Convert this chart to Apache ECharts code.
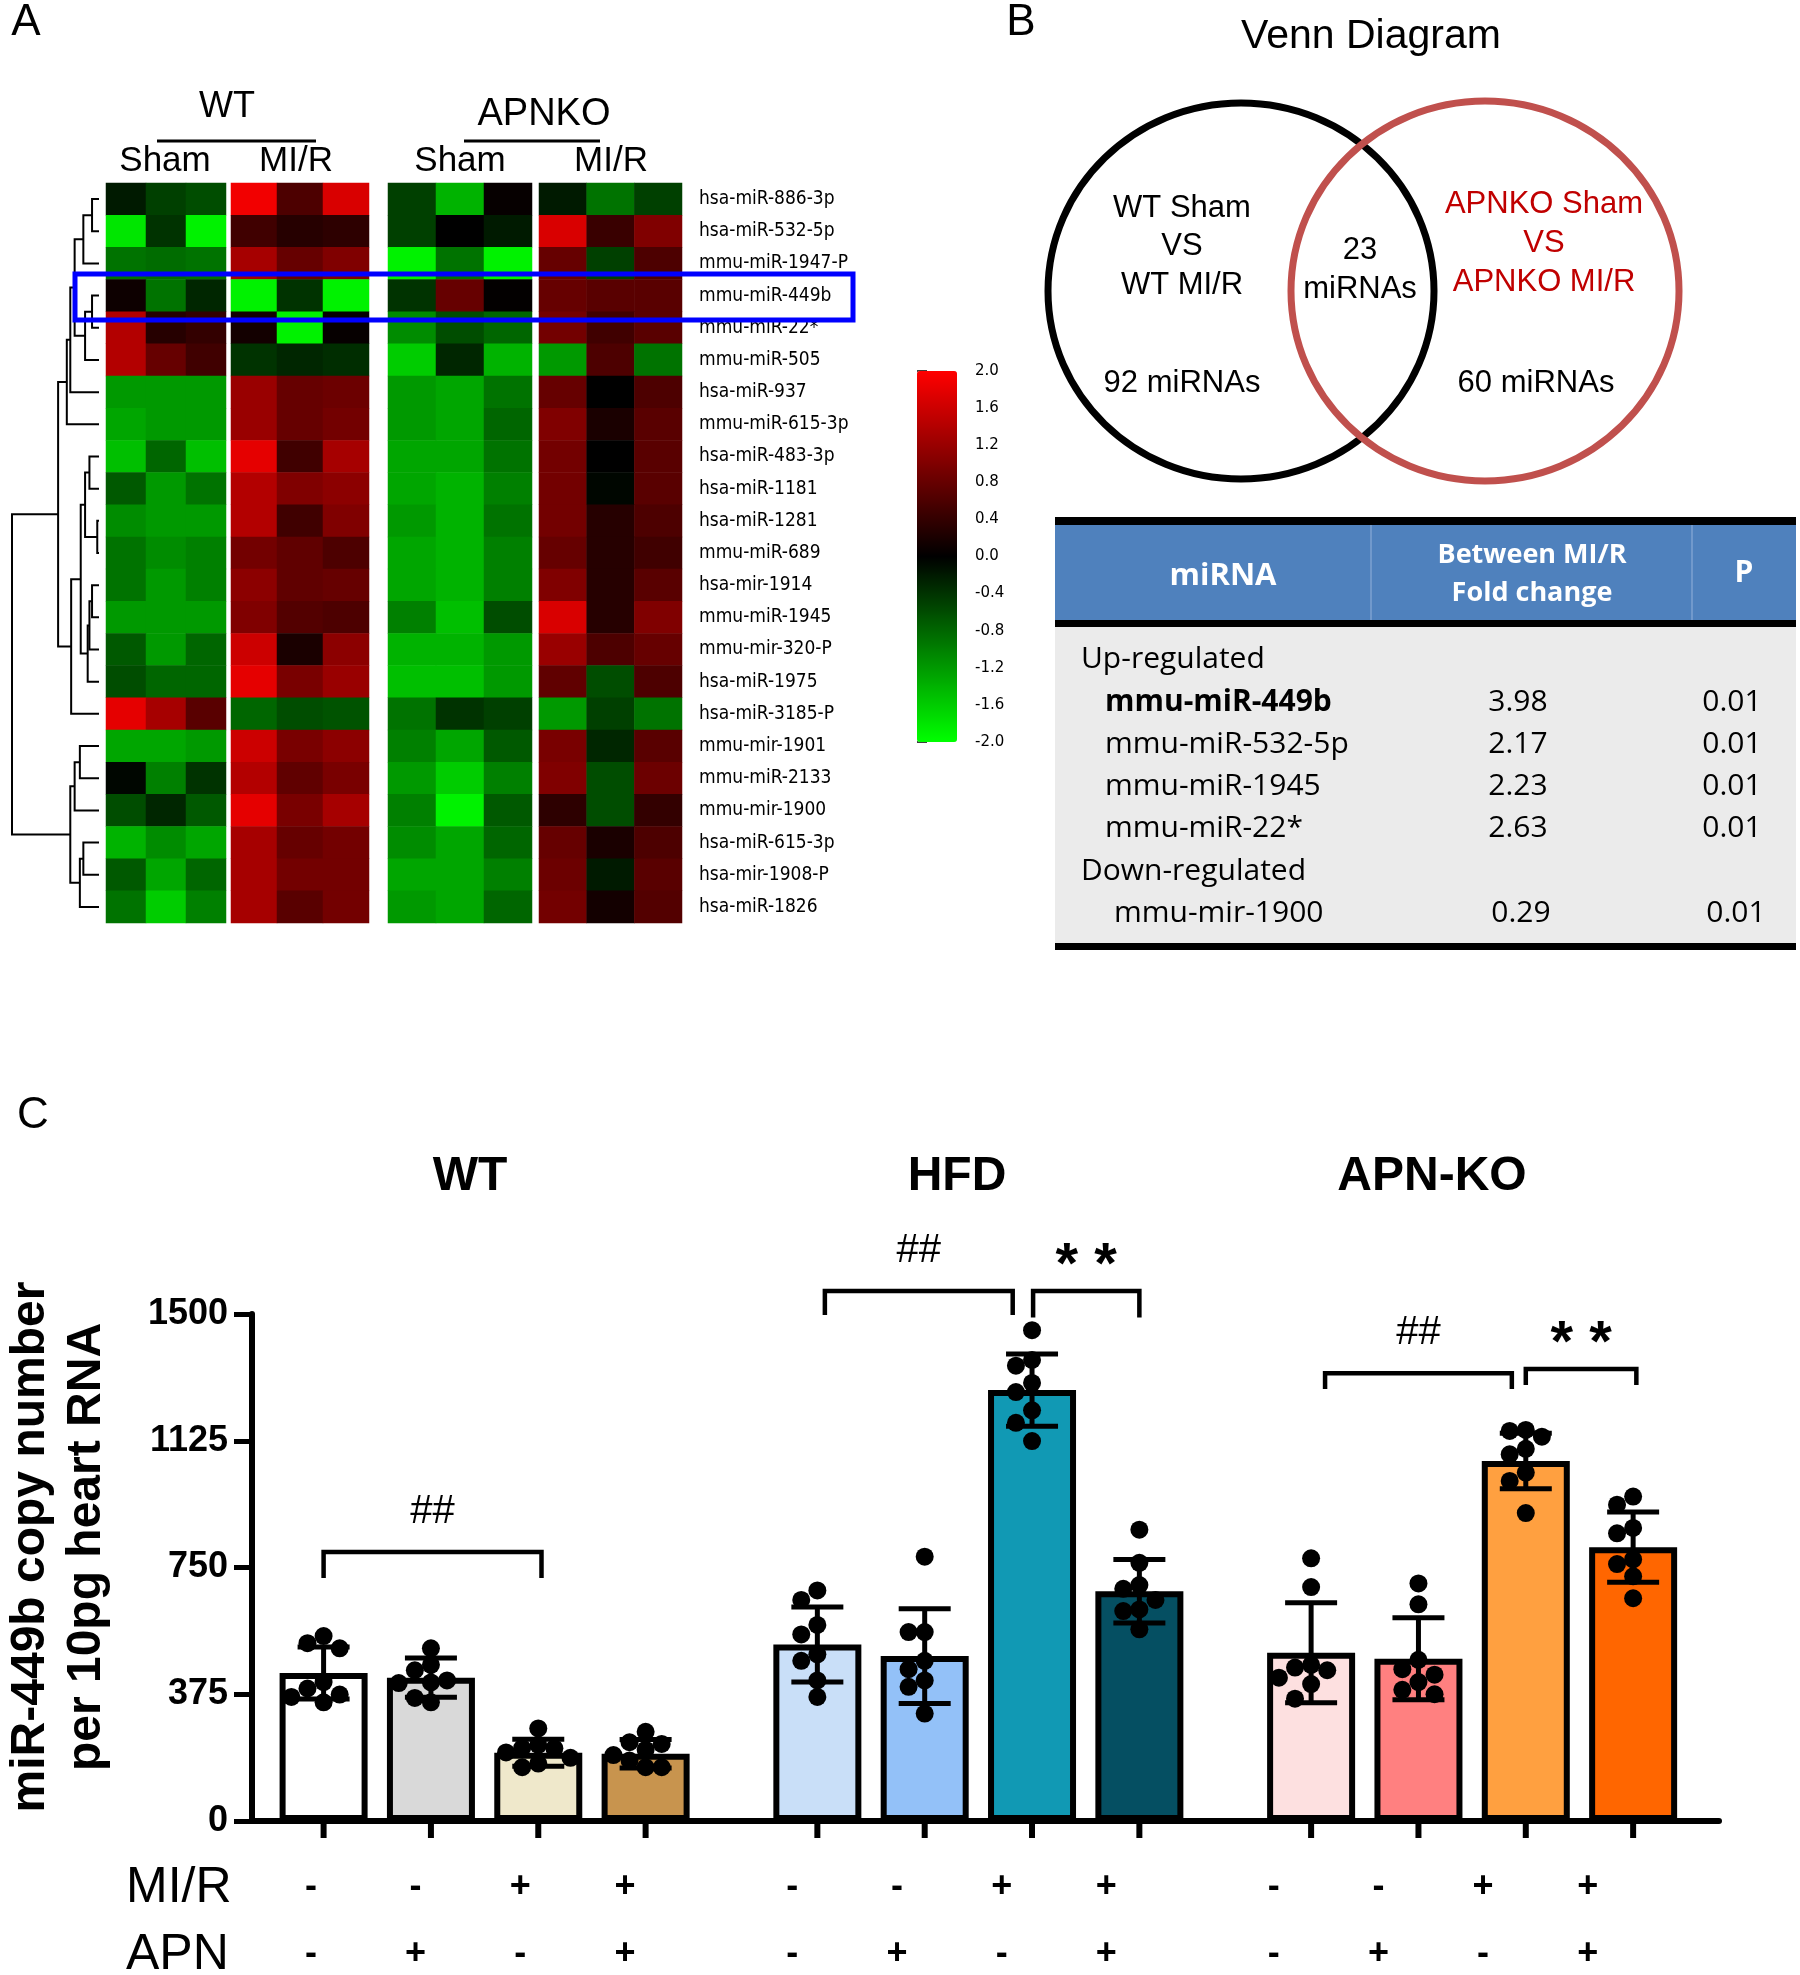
<!DOCTYPE html>
<html><head><meta charset="utf-8">
<script src="https://cdn.jsdelivr.net/npm/echarts@6.0.0/dist/echarts.min.js"></script>
<style>html,body{margin:0;padding:0;background:#fff;}#chart{width:1800px;height:1975px;}</style>
</head><body><div id="chart"></div>
<script>
// ================= DATA =================
// Panel A heatmap
const mirnas = ['hsa-miR-886-3p','hsa-miR-532-5p','mmu-miR-1947-P','mmu-miR-449b','mmu-miR-22*','mmu-miR-505','hsa-miR-937','mmu-miR-615-3p','hsa-miR-483-3p','hsa-miR-1181','hsa-miR-1281','mmu-miR-689','hsa-mir-1914','mmu-miR-1945','mmu-mir-320-P','hsa-miR-1975','hsa-miR-3185-P','mmu-mir-1901','mmu-miR-2133','mmu-mir-1900','hsa-miR-615-3p','hsa-mir-1908-P','hsa-miR-1826'];
const heatGroups = ['WT Sham','WT MI/R','APNKO Sham','APNKO MI/R'];
const wtSham = [[-0.2,-0.5,-0.6],[-1.8,-0.4,-1.9],[-0.9,-0.85,-0.9],[0.1,-0.9,-0.3],[1.4,0.3,0.4],[1.4,0.8,0.5],[-1.2,-1.2,-1.2],[-1.3,-1.2,-1.2],[-1.5,-0.8,-1.5],[-0.7,-1.2,-0.9],[-1.1,-1.2,-1.2],[-0.9,-1.1,-1.0],[-0.9,-1.2,-1.0],[-1.2,-1.2,-1.2],[-0.7,-1.2,-0.8],[-0.6,-0.8,-0.8],[1.8,1.3,0.7],[-1.3,-1.3,-1.2],[-0.05,-1.0,-0.4],[-0.6,-0.3,-0.7],[-1.4,-1.1,-1.3],[-0.7,-1.3,-0.8],[-0.9,-1.6,-1.0]];
const wtMIR = [[1.9,0.6,1.7],[0.5,0.3,0.35],[1.3,0.8,1.0],[-1.9,-0.4,-1.9],[0.15,-1.9,0.05],[-0.4,-0.3,-0.35],[1.2,0.8,0.85],[1.2,0.8,0.9],[1.8,0.5,1.3],[1.4,1.0,1.1],[1.4,0.5,1.0],[0.9,0.75,0.6],[1.1,0.75,0.8],[1.0,0.65,0.6],[1.6,0.2,1.1],[1.8,0.95,1.2],[-0.8,-0.6,-0.65],[1.6,0.95,1.1],[1.4,0.75,0.95],[1.8,0.95,1.3],[1.3,0.8,0.9],[1.3,0.9,0.9],[1.3,0.7,0.9]];
const apnSham = [[-0.5,-1.4,0.05],[-0.5,0,-0.2],[-1.9,-0.9,-1.9],[-0.4,0.8,0.02],[-1.1,-0.6,-0.8],[-1.6,-0.3,-1.4],[-1.2,-1.3,-0.9],[-1.2,-1.3,-0.8],[-1.3,-1.3,-0.9],[-1.3,-1.4,-1.0],[-1.2,-1.4,-0.9],[-1.3,-1.4,-1.0],[-1.3,-1.4,-1.0],[-1.0,-1.5,-0.6],[-1.4,-1.4,-1.2],[-1.5,-1.5,-1.2],[-0.9,-0.4,-0.5],[-1.0,-1.3,-0.7],[-1.2,-1.6,-1.0],[-1.0,-1.9,-0.7],[-1.1,-1.3,-0.8],[-1.3,-1.3,-1.0],[-1.2,-1.3,-0.8]];
const apnMIR = [[-0.2,-0.9,-0.5],[1.7,0.45,1.0],[0.8,-0.5,0.6],[0.8,0.7,0.7],[0.9,0.5,0.7],[-1.2,0.6,-0.9],[0.8,0,0.6],[1.0,0.2,0.7],[0.9,0,0.7],[0.9,-0.05,0.7],[0.9,0.3,0.6],[0.8,0.3,0.5],[1.0,0.3,0.7],[1.7,0.3,1.0],[1.2,0.6,0.8],[0.75,-0.6,0.6],[-1.2,-0.5,-0.9],[0.95,-0.3,0.7],[1.0,-0.6,0.85],[0.35,-0.6,0.4],[0.8,0.2,0.6],[0.85,-0.2,0.7],[0.9,0.15,0.65]];
// dendrogram: [left, right, mergeHeight]; leaves are row indices
const dendroTree = [[[[[[[0,1,0.08],2,0.18],[[3,4,0.08],5,0.16],0.28],6,0.33],7,0.37],[[[[8,9,0.11],[10,11,0.02],0.16],[[[12,13,0.08],14,0.11],15,0.13],0.21],16,0.32],0.47],[[[17,18,0.22],19,0.28],[[20,21,0.18],22,0.22],0.33],1.0];
const colorTicks = [-2, 2, 0.4];

// Panel B
const vennTitle = 'Venn Diagram';
const vennLeft = ['WT Sham','VS','WT MI/R'];
const vennRight = ['APNKO Sham','VS','APNKO MI/R'];
const vennCounts = [92, 23, 60];
const tableHeader = ['miRNA','Between MI/R\nFold change','P'];
const upMiRNA = ['mmu-miR-449b','mmu-miR-532-5p','mmu-miR-1945','mmu-miR-22*'];
const upFold = ['3.98','2.17','2.23','2.63'];
const upP = ['0.01','0.01','0.01','0.01'];
const downMiRNA = ['mmu-mir-1900'];
const downFold = ['0.29'];
const downP = ['0.01'];

// Panel C
const groupTitles = ['WT','HFD','APN-KO'];
const mirSign = ['-','-','+','+','-','-','+','+','-','-','+','+'];
const apnSign = ['-','+','-','+','-','+','-','+','-','+','-','+'];
const barMeans = [438,424,202,199, 522,488,1275,680, 498,480,1065,810];
const barSD = [77,58,40,42, 111,140,107,94, 148,121,82,104];
const dots = [
 [547,511,526,411,374,392,351,367],
 [511,446,462,416,408,351,364,410],
 [274,225,215,203,216,187,159,170],
 [264,159,228,211,233,159,179,195],
 [654,682,552,580,474,493,416,367],
 [782,559,559,474,449,416,397,318],
 [1452,1364,1347,1296,1269,1215,1178,1124],
 [862,764,698,654,687,626,621,567],
 [777,692,424,462,454,446,405,362],
 [703,641,477,433,411,449,375,388],
 [1157,1137,1154,1101,1085,1031,1006,911],
 [960,936,867,851,760,774,724,659]
];
const yTicks = [0, 1500, 375];
// significance brackets: from bar, to bar, top value, leg value, label
const brackets = [
 {from:0, to:2, top:796, leg:719, label:'##'},
 {from:4, to:6, top:1568, leg:1497, label:'##'},
 {from:6, to:7, top:1568, leg:1490, label:'* *'},
 {from:8, to:10, top:1325, leg:1278, label:'##'},
 {from:10, to:11, top:1337, leg:1290, label:'* *'}
];

// ================= STYLE / LAYOUT =================
const barColors = ['#ffffff','#d9d9d9','#efe8cb','#c8944e','#c9dff8','#93c1f8','#1199b4','#054f62','#fde0e0','#ff8080','#ffa040','#ff6600'];
const bracketShift = [[0,0.03],[0.07,-0.18],[0.01,0],[0.13,-0.13],[0,0.03]];
const groupGap = 4.6;
const barPos = barMeans.map((_, i) => Math.floor(i/4)*groupGap + (i%4));
const ARIAL = '"Liberation Sans", Arial, sans-serif';
const NARROW = '"DejaVu Sans Condensed","DejaVu Sans",sans-serif';
const CAL = '"Open Sans","Noto Sans",sans-serif';

const hmGrids = [[106,120],[231,138],[388,144],[539,143]];
const hmTop = 183, hmH = 740;

// ================= BUILD =================
const chart = echarts.init(document.getElementById('chart'), null, {renderer:'canvas', width:1800, height:1975});
const heatSets = [wtSham, wtMIR, apnSham, apnMIR];

const grids = [], xAxes = [], yAxes = [], series = [];
heatSets.forEach((set, g) => {
  grids.push({left: hmGrids[g][0], width: hmGrids[g][1], top: hmTop, height: hmH});
  xAxes.push({type:'category', gridIndex:g, data:['1','2','3'], show:false});
  yAxes.push({type:'category', gridIndex:g, data:mirnas, inverse:true, show: g===3, position:'right',
    axisLine:{show:false}, axisTick:{show:false},
    axisLabel:{show: g===3, interval:0, margin:17, fontSize:19, fontFamily:NARROW, color:'#000'}});
  const data = [];
  set.forEach((row, r) => row.forEach((v, c) => data.push([c, r, v])));
  series.push({type:'heatmap', xAxisIndex:g, yAxisIndex:g, data, emphasis:{disabled:true}, progressive:0});
});
// grid 4 : colour bar axis
grids.push({left:917, width:40, top:371, height:371});
xAxes.push({type:'value', gridIndex:4, show:false});
yAxes.push({type:'value', gridIndex:4, min:colorTicks[0], max:colorTicks[1], interval:colorTicks[2], position:'right',
  axisLine:{show:false}, splitLine:{show:false},
  axisTick:{show:true, length:10, lineStyle:{color:'#000', width:1.5}},
  axisLabel:{margin:18, fontSize:15, fontFamily:'"DejaVu Sans",sans-serif', color:'#000',
    formatter: v => Math.abs(v) < 1e-9 ? '0.0' : v.toFixed(1)}});
// grid 5 : dendrogram
grids.push({left:12, width:87, top:hmTop, height:hmH});
xAxes.push({type:'value', gridIndex:5, min:0, max:1, inverse:true, show:false});
yAxes.push({type:'value', gridIndex:5, min:-0.5, max:mirnas.length-0.5, inverse:true, show:false});
const dendroSegs = [];
(function walk(n){
  if (typeof n === 'number') return {y:n, h:0};
  const a = walk(n[0]), b = walk(n[1]);
  dendroSegs.push([a.y, a.h, b.y, b.h, n[2]]);
  return {y:(a.y+b.y)/2, h:n[2]};
})(dendroTree);
series.push({type:'custom', xAxisIndex:5, yAxisIndex:5, clip:false, data:dendroSegs, silent:true,
  renderItem:(p, api) => {
    const y1=api.value(0), h1=api.value(1), y2=api.value(2), h2=api.value(3), h=api.value(4);
    const pts = [api.coord([h1,y1]), api.coord([h,y1]), api.coord([h,y2]), api.coord([h2,y2])];
    return {type:'polyline', shape:{points:pts}, style:{stroke:'#000', lineWidth:2, fill:null}};
  }});
// grid 6 : bar chart
grids.push({left:252, right:81, top:1314, bottom:154});
xAxes.push({type:'value', gridIndex:6, min:-0.667, max:13,
  axisLine:{show:true, onZero:false, lineStyle:{color:'#000', width:6}}, axisTick:{show:false},
  axisLabel:{show:false}, splitLine:{show:false}});
yAxes.push({type:'value', gridIndex:6, min:yTicks[0], max:yTicks[1], interval:yTicks[2],
  axisLine:{show:true, onZero:false, lineStyle:{color:'#000', width:6}},
  axisTick:{show:true, length:18, lineStyle:{color:'#000', width:5}},
  axisLabel:{margin:24, fontSize:36, fontWeight:'bold', fontFamily:ARIAL, color:'#000', formatter: v => String(v)},
  splitLine:{show:false}});
series.push({type:'bar', xAxisIndex:6, yAxisIndex:6, barWidth:88, z:2,
  data: barMeans.map((m,i) => ({value:[barPos[i], m], itemStyle:{color:barColors[i], borderColor:'#000', borderWidth:6}})),
  emphasis:{disabled:true}});
series.push({type:'custom', xAxisIndex:6, yAxisIndex:6, clip:false, z:3, silent:true,
  data: barMeans.map((m,i) => [barPos[i], m, barSD[i], i]),
  renderItem:(p, api) => {
    const x=api.value(0), m=api.value(1), sd=api.value(2), i=api.value(3);
    const t = api.coord([x, m+sd]), b = api.coord([x, m-sd]), base = api.coord([x, 0]);
    const lab = api.coord([x*0.975 - 0.118, 0]);
    const ls = {stroke:'#000', lineWidth:5};
    const cap = 26;
    return {type:'group', children:[
      {type:'line', shape:{x1:t[0], y1:t[1], x2:b[0], y2:b[1]}, style:ls},
      {type:'line', shape:{x1:t[0]-cap, y1:t[1], x2:t[0]+cap, y2:t[1]}, style:ls},
      {type:'line', shape:{x1:b[0]-cap, y1:b[1], x2:b[0]+cap, y2:b[1]}, style:ls},
      {type:'line', shape:{x1:base[0], y1:base[1], x2:base[0], y2:base[1]+17}, style:{stroke:'#000', lineWidth:6}},
      {type:'text', x:lab[0], y:base[1]+66, style:{text:mirSign[i], font:'bold 36px '+ARIAL, fill:'#000', align:'center', verticalAlign:'middle'}},
      {type:'text', x:lab[0], y:base[1]+133, style:{text:apnSign[i], font:'bold 36px '+ARIAL, fill:'#000', align:'center', verticalAlign:'middle'}}
    ]};
  }});
// dots (beeswarm layout)
function swarm(vals){
  const order = vals.map((v,i)=>i).sort((a,b)=>vals[b]-vals[a]);
  const placed = [], offs = [];
  const cands = [0,-0.15,0.15,-0.3,0.3,-0.42,0.42];
  for (const i of order){
    let chosen = 0;
    for (const o of cands){
      if (placed.every(q => Math.hypot((q.o-o)*107.4, (q.v-vals[i])*0.338) >= 16)) { chosen = o; break; }
    }
    offs[i] = chosen; placed.push({o:chosen, v:vals[i]});
  }
  return offs;
}
const dotData = [];
dots.forEach((vals, i) => { const o = swarm(vals); vals.forEach((v,k) => dotData.push([barPos[i]+o[k], v])); });
series.push({type:'scatter', xAxisIndex:6, yAxisIndex:6, data:dotData, symbolSize:18, z:4, clip:false,
  itemStyle:{color:'#000', opacity:1}, emphasis:{disabled:true}});
// brackets
series.push({type:'custom', xAxisIndex:6, yAxisIndex:6, clip:false, z:3, silent:true,
  data: brackets.map((b,k) => [barPos[b.from]+bracketShift[k][0], barPos[b.to]+bracketShift[k][1], b.top, b.leg, k]),
  renderItem:(p, api) => {
    const x1=api.value(0), x2=api.value(1), top=api.value(2), leg=api.value(3), k=api.value(4);
    const pts = [api.coord([x1,leg]), api.coord([x1,top]), api.coord([x2,top]), api.coord([x2,leg])];
    const lbl = brackets[k].label;
    const isStar = lbl.indexOf('*') >= 0;
    return {type:'group', children:[
      {type:'polyline', shape:{points:pts}, style:{stroke:'#000', lineWidth:4.5, fill:null}},
      {type:'text', x:(pts[1][0]+pts[2][0])/2, y:pts[1][1] + (isStar ? -24 : -40),
        style:{text:lbl, font:(isStar ? 'bold 58px ' : '40px ')+ARIAL, fill:'#000', align:'center', verticalAlign:'middle'}}
    ]};
  }});

// ================= GRAPHICS (text, Venn, table) =================
const T = (x, y, text, font, extra) => Object.assign({type:'text', x, y, style:Object.assign({text, font, fill:'#000', align:'center', verticalAlign:'middle'}, extra||{})});
const gfx = [];
// panel letters
gfx.push(T(26, 23, 'A', '44px '+ARIAL));
gfx.push(T(1021, 23, 'B', '44px '+ARIAL));
gfx.push(T(33, 1116, 'C', '44px '+ARIAL));
// heatmap headers
gfx.push(T(227, 107, 'WT', '36px '+ARIAL));
gfx.push(T(544, 115, 'APNKO', '38px '+ARIAL));
gfx.push({type:'line', shape:{x1:157, y1:141, x2:316, y2:141}, style:{stroke:'#000', lineWidth:3}});
gfx.push({type:'line', shape:{x1:464, y1:141, x2:600, y2:141}, style:{stroke:'#000', lineWidth:3}});
gfx.push(T(165, 161, 'Sham', '35px '+ARIAL));
gfx.push(T(296, 161, 'MI/R', '35px '+ARIAL));
gfx.push(T(460, 161, 'Sham', '35px '+ARIAL));
gfx.push(T(611, 161, 'MI/R', '35px '+ARIAL));
gfx.push({type:'rect', z:100, shape:{x:75, y:274, width:778, height:46}, style:{fill:null, stroke:'#0000ff', lineWidth:5}});
// Venn
gfx.push(T(1371, 37, vennTitle, '41px '+ARIAL));
gfx.push({type:'ellipse', shape:{cx:1241, cy:291, rx:193, ry:188}, style:{fill:null, stroke:'#000', lineWidth:7}});
gfx.push({type:'ellipse', shape:{cx:1485, cy:291, rx:194, ry:190}, style:{fill:null, stroke:'#c0504d', lineWidth:7}});
vennLeft.forEach((t,i) => gfx.push(T(1182, 208 + i*38.5, t, '31px '+ARIAL)));
vennRight.forEach((t,i) => gfx.push(T(1544, 204 + i*39, t, '31px '+ARIAL, {fill:'#c00000'})));
gfx.push(T(1182, 383, vennCounts[0] + ' miRNAs', '31px '+ARIAL));
gfx.push(T(1360, 250, String(vennCounts[1]), '31px '+ARIAL));
gfx.push(T(1360, 289, 'miRNAs', '31px '+ARIAL));
gfx.push(T(1536, 383, vennCounts[2] + ' miRNAs', '31px '+ARIAL));
// table
gfx.push({type:'rect', shape:{x:1055, y:525, width:741, height:95}, style:{fill:'#4f81bd'}});
gfx.push({type:'rect', shape:{x:1055, y:627, width:741, height:316}, style:{fill:'#ebebeb'}});
[[517,8],[620,7],[943,7]].forEach(r => gfx.push({type:'rect', shape:{x:1055, y:r[0], width:741, height:r[1]}, style:{fill:'#000'}}));
[1371,1692].forEach(x => gfx.push({type:'line', shape:{x1:x, y1:525, x2:x, y2:620}, style:{stroke:'#7da2d2', lineWidth:1.5}}));
gfx.push(T(1223, 576, tableHeader[0], 'bold 31px '+CAL, {fill:'#fff'}));
gfx.push(T(1532, 574, tableHeader[1], 'bold 27px '+CAL, {fill:'#fff', lineHeight:38}));
gfx.push(T(1744, 573, tableHeader[2], 'bold 30px '+CAL, {fill:'#fff'}));
const rowH = 42.3;
gfx.push(T(1081, 659, 'Up-regulated', '30px '+CAL, {align:'left'}));
upMiRNA.forEach((m,i) => {
  const y = 702 + i*rowH;
  gfx.push(T(1105, y, m, (i===0?'bold ':'')+'30px '+CAL, {align:'left'}));
  gfx.push(T(1518, y, upFold[i], '30px '+CAL));
  gfx.push(T(1732, y, upP[i], '30px '+CAL));
});
gfx.push(T(1081, 702 + 4*rowH, 'Down-regulated', '30px '+CAL, {align:'left'}));
downMiRNA.forEach((m,i) => {
  const y = 702 + (5+i)*rowH;
  gfx.push(T(1114, y, m, '30px '+CAL, {align:'left'}));
  gfx.push(T(1521, y, downFold[i], '30px '+CAL));
  gfx.push(T(1736, y, downP[i], '30px '+CAL));
});
// panel C texts
gfx.push(T(470, 1177, groupTitles[0], 'bold 48px '+ARIAL));
gfx.push(T(957, 1177, groupTitles[1], 'bold 48px '+ARIAL));
gfx.push(T(1432, 1177, groupTitles[2], 'bold 48px '+ARIAL));
gfx.push({type:'text', x:59, y:1547, rotation:Math.PI/2, style:{text:'miR-449b copy number\nper 10pg heart RNA', font:'bold 48px '+ARIAL, fill:'#000', align:'center', verticalAlign:'middle', lineHeight:56}});
gfx.push(T(126, 1888, 'MI/R', '50px '+ARIAL, {align:'left'}));
gfx.push(T(126, 1955, 'APN', '50px '+ARIAL, {align:'left'}));

chart.setOption({
  animation:false,
  backgroundColor:'#fff',
  grid:grids, xAxis:xAxes, yAxis:yAxes,
  visualMap:{type:'continuous', min:-2, max:2, seriesIndex:[0,1,2,3], calculable:false, left:917, top:371,
    itemWidth:40, itemHeight:371, padding:0, inRange:{color:['#00ff00','#000000','#ff0000']}, hoverLink:false},
  series,
  graphic:{elements:gfx}
});
</script></body></html>
